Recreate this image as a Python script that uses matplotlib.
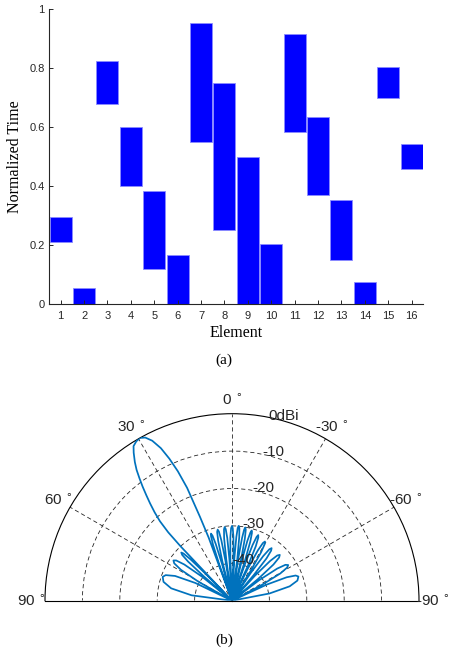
import numpy as np
import matplotlib
matplotlib.use('Agg')
import matplotlib.pyplot as plt

plt.rcParams['font.family'] = ['Liberation Sans', 'DejaVu Sans']

# (a) switch-on window of each element
elements = list(range(1, 17))
t_start = [0.208, 0.0, 0.677, 0.399, 0.118, 0.0, 0.549, 0.250,
           0.0, 0.0, 0.584, 0.368, 0.149, 0.0, 0.698, 0.458]
t_stop = [0.293, 0.054, 0.824, 0.601, 0.383, 0.166, 0.952, 0.750,
          0.500, 0.202, 0.917, 0.633, 0.351, 0.074, 0.804, 0.542]

# (b) radiation pattern, angle in degrees (positive = left), gain in dBi
angle_deg = [-90, -82, -79.1, -76.0, -72.9, -70.0, -68.4, -66.8, -65.1, -63.5,
             -62.1, -60.6, -59.0, -57.6, -56.1, -54.6, -52.9, -51.5,
             -50.2, -48.9, -47.5, -46.2, -45.0, -43.8, -42.5, -41.3,
             -40.3, -39.2, -38.0, -37.0, -36.0, -35.0, -34.0, -32.9,
             -32.0, -31.0, -30.0, -29.1, -28.2, -27.2, -26.2, -25.3,
             -24.5, -23.6, -22.6, -21.8, -21.1, -20.3, -19.5, -18.7,
             -18.0, -17.2, -16.4, -15.7, -15.1, -14.4, -13.7, -13.0,
             -12.4, -11.7, -11.0, -10.3, -9.7, -9.1, -8.4, -7.8,
             -7.2, -6.5, -5.8, -5.1, -4.5, -3.9, -3.2, -2.6,
             -2.0, -1.3, -0.6, 0.0, 0.7, 1.5, 2.2, 2.9,
             3.6, 4.3, 5.0, 5.7, 6.4, 7.2, 7.9, 8.6,
             9.3, 10.0, 10.7, 11.4, 12.2, 13.0, 13.8, 14.5,
             15.2, 16.0, 16.7, 17.4, 18.0, 18.7, 19.4, 20.0,
             20.3, 20.9, 21.7, 22.7, 23.8, 25.0, 26.5, 28.0, 29.5, 31.0, 32.5, 33.6,
             35.0, 36.1, 37.1, 38.1, 39.1, 40.1, 41.2, 42.2, 43.0, 43.4, 43.7,
             44.4, 45.1, 45.8, 46.5, 47.4, 48.3, 49.2, 50.0,
             51.3, 52.8, 54.2, 55.5, 57.1, 58.8, 60.5, 62.0,
             64.2, 66.5, 68.9, 71.0, 74.6, 78.5, 82.4, 86.0, 90]
gain_db = [-50, -50, -39.8, -34.1, -31.7, -31.1, -31.7, -34.1, -39.8, -50,
           -40.9, -35.2, -32.8, -32.2, -32.8, -35.2, -40.9, -50,
           -41.0, -35.3, -32.9, -32.3, -32.9, -35.3, -41.0, -50,
           -41.1, -35.4, -33.0, -32.4, -33.0, -35.4, -41.1, -50,
           -40.6, -34.9, -32.5, -31.9, -32.5, -34.9, -40.6, -50,
           -39.8, -34.1, -31.7, -31.1, -31.7, -34.1, -39.8, -50,
           -39.2, -33.5, -31.1, -30.5, -31.1, -33.5, -39.2, -50,
           -38.8, -33.1, -30.7, -30.1, -30.7, -33.1, -38.8, -50,
           -38.6, -32.9, -30.5, -29.9, -30.5, -32.9, -38.6, -50,
           -38.7, -33.0, -30.6, -30.0, -30.6, -33.0, -38.7, -50,
           -38.9, -33.2, -30.8, -30.2, -30.8, -33.2, -38.9, -50,
           -39.3, -33.6, -31.2, -30.6, -31.2, -33.6, -39.3, -50,
           -39.9, -34.2, -31.8, -31.2, -31.8, -34.2, -39.9, -50,
           -32, -26, -17.5, -12.5, -8.5, -5.0, -2.2, -0.6, 0, -0.3, -1.0, -2.5,
           -4.7, -6.7, -9.0, -11.3, -13.7, -16, -18.6, -21.3, -25, -30, -50,
           -40.0, -34.3, -31.9, -31.3, -31.9, -34.3, -40.0, -50,
           -39.7, -34.0, -31.6, -31.0, -31.6, -34.0, -39.7, -50,
           -39.1, -33.4, -31.0, -30.4, -31.0, -33.4, -39.1, -50, -50]

theta_ticks = [-60, -30, 0, 30, 60]
theta_labels = [90, 60, 30, 0, -30, -60, -90]
ring_ticks = [-40, -30, -20, -10]
ring_labels = ['-40', '-30', '-20', '-10', '0dBi']

W, H = 449, 662
fig = plt.figure(figsize=(W / 100, H / 100), dpi=100)

# ---------------- (a) ----------------
ax1 = fig.add_axes([49 / W, 1 - 303.7 / H, 374.3 / W, 294.4 / H])
heights = [b - a for a, b in zip(t_start, t_stop)]
ax1.bar(elements, heights, bottom=t_start, width=0.94,
        color='#0000ff', edgecolor='#8c8cff', linewidth=0.6)
ax1.set_xlim(0.5, 16.5)
ax1.set_ylim(0, 1)
ax1.set_xticks(elements)
ax1.set_yticks([0, 0.2, 0.4, 0.6, 0.8, 1])
ax1.set_yticklabels(['0', '0.2', '0.4', '0.6', '0.8', '1'])
for s in ['top', 'right']:
    ax1.spines[s].set_visible(False)
for s in ['left', 'bottom']:
    ax1.spines[s].set_color('#262626')
    ax1.spines[s].set_linewidth(0.8)
ax1.tick_params(direction='in', length=3, width=0.7, color='#262626',
                labelcolor='#262626', labelsize=8)
ax1.tick_params(axis='x', pad=5)
ax1.tick_params(axis='y', pad=3)
ax1.set_xlabel('Element', family='Liberation Serif', fontsize=11.5)
ax1.xaxis.set_label_coords(0.5, -0.1)
ax1.xaxis.label.set_va('center')
ax1.set_ylabel('Normalized Time', family='Liberation Serif', fontsize=11.5)
ax1.yaxis.set_label_coords(-0.091, 0.5)
ax1.yaxis.label.set_va('center')

fig.text(224 / W, 1 - 360 / H, '(a)', family='Liberation Serif', fontsize=11,
         ha='center', va='center')

# ---------------- (b) ----------------
# polar axes keep a square box; the half disc sits in its middle
R = 187
cx, cy = 232, 600.7
ax2 = fig.add_axes([(cx - R) / W, (H - (cy - R / 2) - R) / H, 2 * R / W, 2 * R / H],
                   projection='polar')
ax2.set_theta_zero_location('N')
ax2.set_theta_direction(1)
ax2.set_thetamin(-90)
ax2.set_thetamax(90)
ax2.set_ylim(-50, 0)
ax2.plot(np.radians(angle_deg), gain_db, color='#0072bd', linewidth=1.25, zorder=3)

ax2.set_xticks(np.radians(theta_ticks))
ax2.set_yticks(ring_ticks)
ax2.set_xticklabels([])
ax2.set_yticklabels([])
ax2.tick_params(length=0)
ax2.grid(True, color='#262626', linestyle=(0, (5, 3.5)), linewidth=0.6)
for s in ['polar', 'start', 'end']:
    ax2.spines[s].set_color('black')
    ax2.spines[s].set_linewidth(0.8)

for a in theta_labels:
    ax2.text(np.radians(a), 3.6, '%d$\\,^\\circ$' % a, fontsize=11,
             ha='center', va='center', color='#262626')
for r, lab in zip(ring_ticks + [0], ring_labels):
    ax2.text(np.radians(-15.5), r + 1.3, lab, fontsize=11,
             ha='center', va='center', color='#262626', zorder=4)

fig.text(224 / W, 1 - 640 / H, '(b)', family='Liberation Serif', fontsize=11,
         ha='center', va='center')

fig.savefig('out.png', dpi=100)
